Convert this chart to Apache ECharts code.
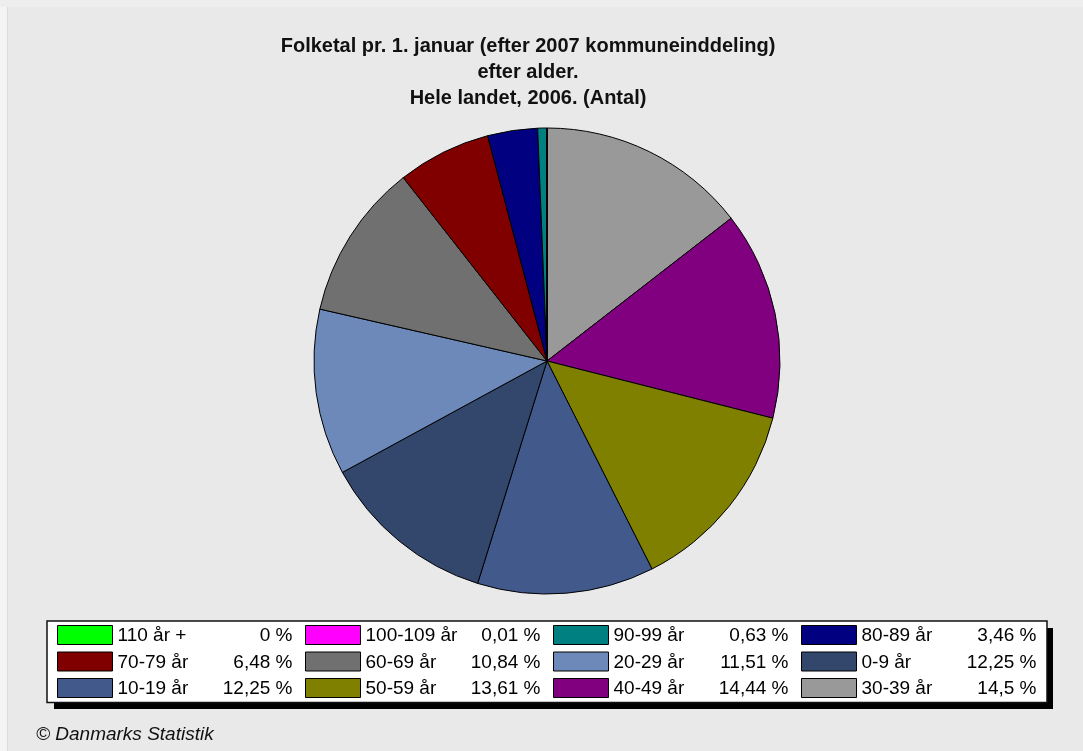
<!DOCTYPE html>
<html>
<head>
<meta charset="utf-8">
<script src="https://cdn.jsdelivr.net/npm/echarts@6/dist/echarts.min.js"></script>
<style>
html,body{margin:0;padding:0;background:#e9e9e9;}
#chart{width:1083px;height:751px;}
</style>
</head>
<body>
<div id="chart"></div>
<script>
// Legend order (row by row, 4 per row)
const categories = ['110 år +','100-109 år','90-99 år','80-89 år','70-79 år','60-69 år','20-29 år','0-9 år','10-19 år','50-59 år','40-49 år','30-39 år'];
// Share of population, percent
const percents = [0, 0.01, 0.63, 3.46, 6.48, 10.84, 11.51, 12.25, 12.25, 13.61, 14.44, 14.5];
const sliceColors = ['#00ff00','#ff00ff','#008080','#000080','#800000','#707070','#6c89b9','#33466c','#415a8b','#808000','#800080','#999999'];
const titleLines = ['Folketal pr. 1. januar (efter 2007 kommuneinddeling)','efter alder.','Hele landet, 2006. (Antal)'];
const sourceText = '© Danmarks Statistik';

const fmt = v => String(v).replace('.', ',') + ' %';
const FONT = "'Liberation Sans', Arial, sans-serif";
const LFS = 19;
const LH = 17;

// measure percent strings so they can be right-aligned in the legend column
const mctx = document.createElement('canvas').getContext('2d');
mctx.font = LFS + 'px ' + FONT;
const TEXT_W = 175; // name + right-aligned percent

const rich = {};
const idxByName = {};
categories.forEach((c, i) => {
  idxByName[c] = i;
  const w = mctx.measureText(fmt(percents[i])).width;
  rich['n' + i] = { fontFamily: FONT, fontSize: LFS, lineHeight: LH, color: '#000', width: Math.max(0, TEXT_W - w), verticalAlign: 'top' };
});
rich.p = { fontFamily: FONT, fontSize: LFS, lineHeight: LH, color: '#000', verticalAlign: 'top' };
rich.s = { width: 6.5, fontSize: LFS, lineHeight: LH, verticalAlign: 'top' };

// Pie is drawn clockwise from 12 o'clock in reverse legend order
const pieData = categories.map((c, i) => ({
  name: c, value: percents[i], itemStyle: { color: sliceColors[i] }
})).reverse();

const chart = echarts.init(document.getElementById('chart'), null, { renderer: 'canvas' });
chart.setOption({
  backgroundColor: '#e9e9e9',
  animation: false,
  graphic: [
    { type: 'rect', left: 0, top: 0, shape: { width: 7, height: 751 }, style: { fill: '#f4f4f4' }, silent: true, z: -10 },
    { type: 'rect', left: 7, top: 0, shape: { width: 1, height: 751 }, style: { fill: '#dcdcdc' }, silent: true, z: -10 },
    { type: 'rect', left: 0, top: 0, shape: { width: 1083, height: 7 }, style: { fill: '#eeeeee' }, silent: true, z: -10 },
    // legend drop shadow
    { type: 'rect', left: 54, top: 628, shape: { width: 999, height: 81 }, style: { fill: '#000' }, silent: true, z: 0 }
  ],
  title: [
    {
      text: titleLines.join('\n'),
      left: 528, top: 33, padding: 0,
      textAlign: 'center',
      textStyle: { fontFamily: FONT, fontSize: 20, fontWeight: 'bold', color: '#111', lineHeight: 26 }
    },
    {
      text: sourceText,
      left: 36, top: 725, padding: 0,
      textStyle: { fontFamily: FONT, fontSize: 19, fontWeight: 'normal', fontStyle: 'italic', color: '#111' }
    }
  ],
  legend: {
    orient: 'horizontal',
    left: 47, top: 621, right: 20,
    padding: [4, 4, 4, 10],
    itemWidth: 55, itemHeight: 19,
    itemGap: 6, itemTextGap: 6.5,
    icon: 'rect',
    backgroundColor: '#ffffff',
    borderColor: '#111',
    borderWidth: 1.5,
    selectedMode: false,
    z: 5,
    data: categories,
    itemStyle: { borderColor: '#000', borderWidth: 1 },
    formatter: name => {
      const i = idxByName[name];
      return '{n' + i + '|' + name + '}{p|' + fmt(percents[i]) + '}{s|}';
    },
    textStyle: { fontFamily: FONT, fontSize: LFS, lineHeight: LH, color: '#000', rich: rich }
  },
  series: [{
    type: 'pie',
    center: [547, 361],
    radius: 233,
    startAngle: 90,
    clockwise: true,
    label: { show: false },
    labelLine: { show: false },
    emphasis: { disabled: true },
    silent: true,
    itemStyle: { borderColor: '#000', borderWidth: 1 },
    data: pieData
  }]
});
</script>
</body>
</html>
